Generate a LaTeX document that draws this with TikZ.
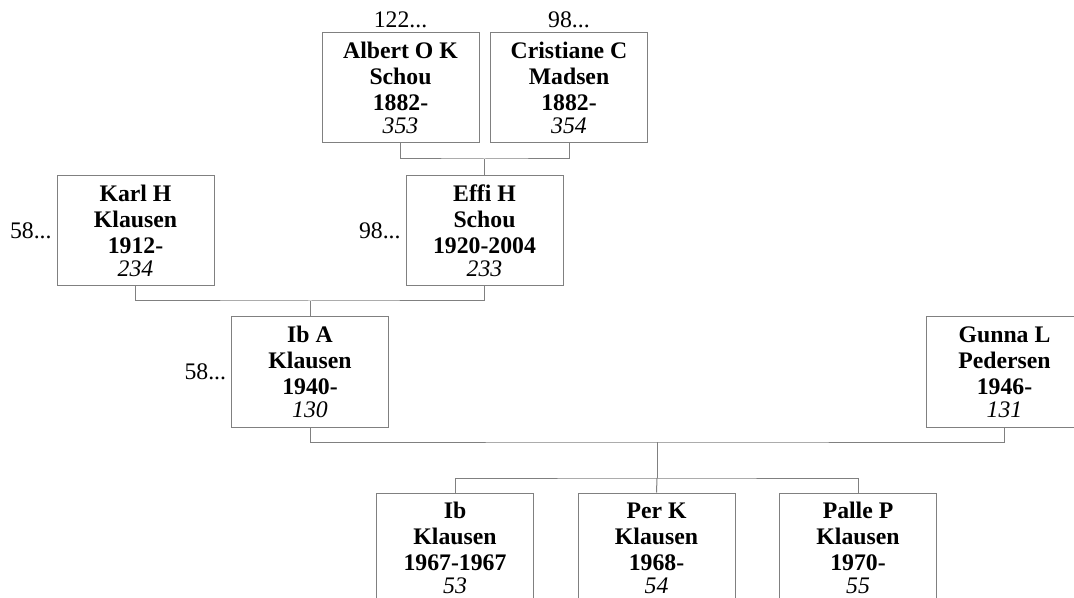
\documentclass[tikz,border=0pt]{standalone}
\usepackage{fontspec}
\setmainfont{Liberation Serif}
\usetikzlibrary{positioning}

\definecolor{linegray}{RGB}{128,128,128}

\tikzset{
  person/.style={draw=linegray, line width=0.75pt, minimum width=117.75pt,
    minimum height=82.5pt, inner sep=0pt, align=center,
    font=\fontsize{17.8}{19.5}\selectfont\bfseries},
  link/.style={draw=linegray, line width=0.75pt},
  more/.style={font=\fontsize{17.8}{19.5}\selectfont, inner sep=3.5pt}
}
\newcommand{\pid}[1]{\\[-2.25pt]{\mdseries\itshape #1}}

\begin{document}
\begin{tikzpicture}[x=0.75pt, y=-0.75pt]
\useasboundingbox (0,0) rectangle (1074,598);
\clip (0,0) rectangle (1074,598);

% grandparents
\node [person] (albert) at (400.5,88) {Albert O K\\Schou\\1882-\pid{353}};
\node [person] (cristiane) at (569,88) {Cristiane C\\Madsen\\1882-\pid{354}};

% parents
\node [person] (karl) at (135.5,230.5) {Karl H\\Klausen\\1912-\pid{234}};
\node [person] (effi) at (484.5,231) {Effi H\\Schou\\1920-2004\pid{233}};

% couple
\node [person] (iba) at (310,372) {Ib A\\Klausen\\1940-\pid{130}};
\node [person] (gunna) at (1004.5,372) {Gunna L\\Pedersen\\1946-\pid{131}};

% children
\foreach \n/\name/\yrs/\id [count=\i from 0] in
    {ib/Ib/1967-1967/53, per/Per K/1968-/54, palle/Palle P/1970-/55}
  \node [person] (\n) at (455+\i*201.5,548) {\name\\Klausen\\\yrs\pid{\id}};

% more ancestors
\node [more, above] (albert-more) at (albert.north) {122...};
\node [more, above] (cristiane-more) at (cristiane.north) {98...};
\node [more, left] (karl-more) at (karl.west) {58...};
\node [more, left] (effi-more) at (effi.west) {98...};
\node [more, left] (iba-more) at (iba.west) {58...};

% family lines
\coordinate (gp) at (484.5,159);
\coordinate (pa) at (310,301);
\coordinate (fam) at (657,442);
\coordinate (kids) at (657,478);

\draw [link] (albert.south) |- (gp) -| (cristiane.south);
\draw [link] (gp) -- (effi.north);
\draw [link] (karl.south) |- (pa) -| (effi.south);
\draw [link] (pa) -- (iba.north);
\draw [link] (iba.south) |- (fam) -| (gunna.south);
\draw [link] (fam) -- (kids);
\draw [link] (ib.north) |- (kids) -| (palle.north);
\draw [link] (kids) -- (per.north);
\end{tikzpicture}
\end{document}
